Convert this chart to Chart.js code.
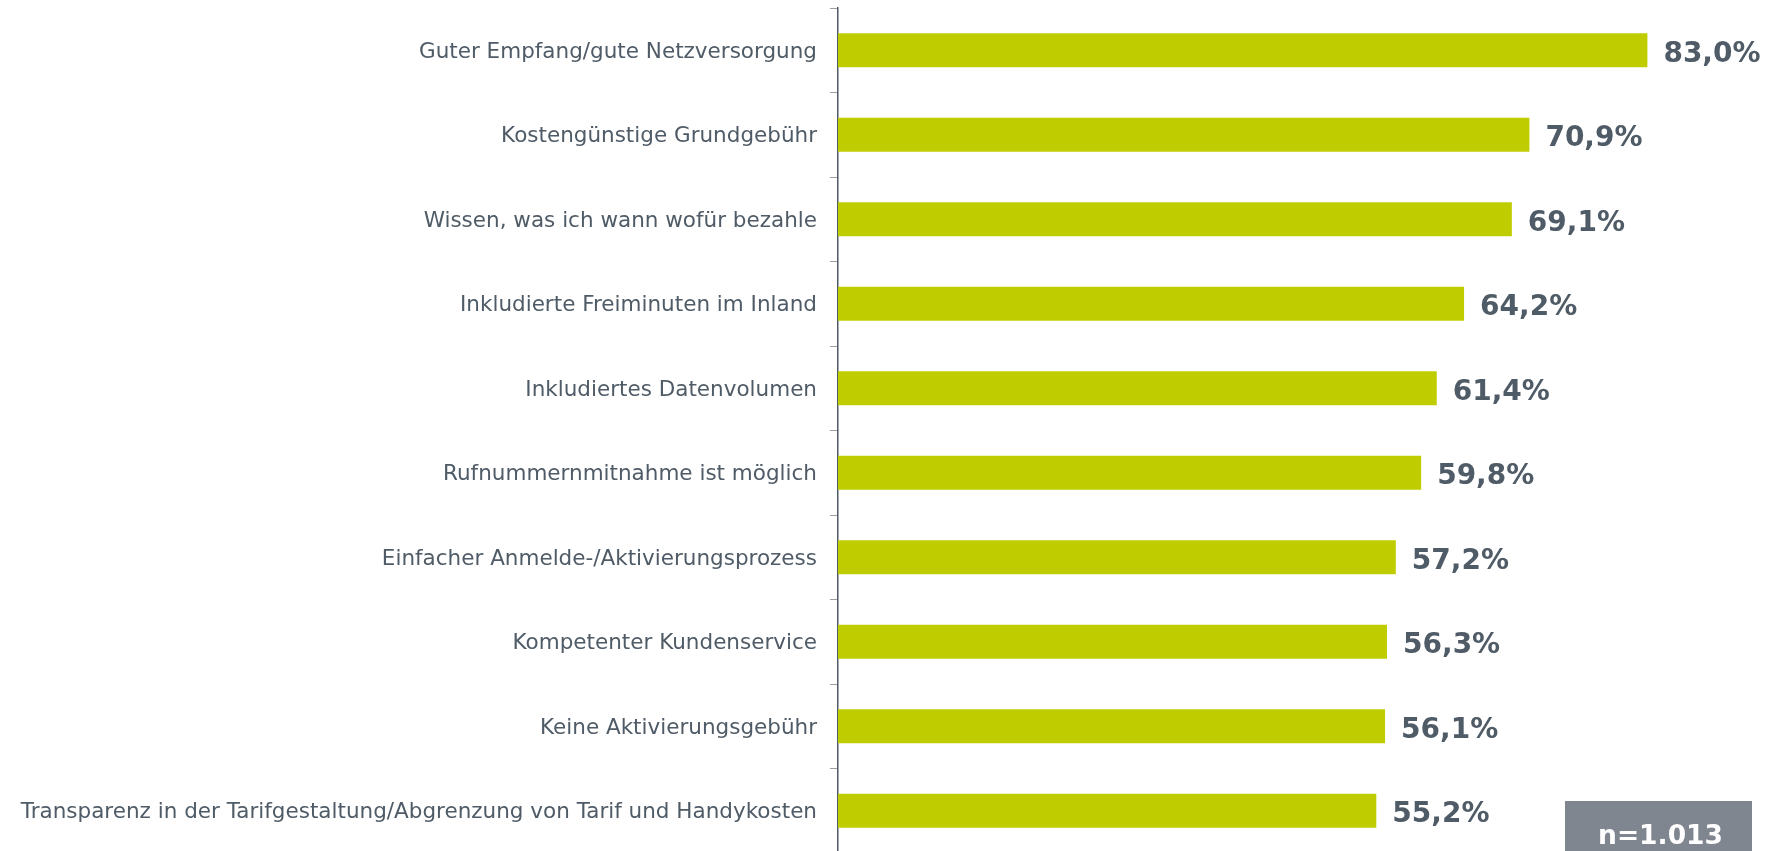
<!DOCTYPE html>
<html>
<head>
<meta charset="utf-8">
<script src="https://cdn.jsdelivr.net/npm/chart.js@4/dist/chart.umd.min.js"></script>
<style>
  html, body { margin: 0; padding: 0; background: #ffffff; overflow: hidden; }
  #wrap { position: relative; width: 1781px; height: 854px; }
</style>
</head>
<body>
<div id="wrap"><canvas id="c"></canvas></div>
<script>
const categories = [
  "Guter Empfang/gute Netzversorgung",
  "Kostengünstige Grundgebühr",
  "Wissen, was ich wann wofür bezahle",
  "Inkludierte Freiminuten im Inland",
  "Inkludiertes Datenvolumen",
  "Rufnummernmitnahme ist möglich",
  "Einfacher Anmelde-/Aktivierungsprozess",
  "Kompetenter Kundenservice",
  "Keine Aktivierungsgebühr",
  "Transparenz in der Tarifgestaltung/Abgrenzung von Tarif und Handykosten"
];
const values = [83.0, 70.9, 69.1, 64.2, 61.4, 59.8, 57.2, 56.3, 56.1, 55.2];
const sampleNote = "n=1.013";

const textColor = "#4f5b66";
const barColor = "#bfcd00";

const valueLabels = {
  id: "valueLabels",
  afterDatasetsDraw(chart) {
    const ctx = chart.ctx;
    const meta = chart.getDatasetMeta(0);
    ctx.save();
    ctx.font = "bold 28px 'DejaVu Sans', Verdana, sans-serif";
    ctx.fillStyle = textColor;
    ctx.textAlign = "left";
    ctx.textBaseline = "middle";
    meta.data.forEach((bar, i) => {
      const txt = values[i].toFixed(1).replace(".", ",") + "%";
      ctx.fillText(txt, bar.x + 16, bar.y + 4);
    });
    ctx.restore();
  }
};

const noteBox = {
  id: "noteBox",
  afterDraw(chart) {
    const ctx = chart.ctx;
    const x = 1565, y = 801, w = 187, h = 60;
    ctx.save();
    ctx.fillStyle = "#80868f";
    ctx.fillRect(x, y, w, h);
    ctx.fillStyle = "#ffffff";
    ctx.font = "bold 26.5px 'DejaVu Sans', Verdana, sans-serif";
    ctx.textAlign = "center";
    ctx.textBaseline = "alphabetic";
    ctx.fillText(sampleNote, x + w / 2 + 2, 844);
    ctx.restore();
  }
};

new Chart(document.getElementById("c"), {
  type: "bar",
  data: {
    labels: categories,
    datasets: [{
      data: values,
      backgroundColor: barColor,
      borderWidth: 0,
      barPercentage: 0.4,
      categoryPercentage: 1.0
    }]
  },
  options: {
    indexAxis: "y",
    responsive: true,
    maintainAspectRatio: false,
    animation: false,
    layout: { padding: { top: 8, bottom: 1, left: 0, right: 0 } },
    plugins: {
      legend: { display: false },
      tooltip: { enabled: false }
    },
    scales: {
      x: {
        display: false,
        min: 0,
        max: 96.7
      },
      y: {
        afterFit(scale) {
          scale.width = 838;
          scale.paddingTop = 0;
          scale.paddingBottom = 0;
        },
        grid: {
          display: true,
          drawOnChartArea: false,
          drawTicks: true,
          tickLength: 8,
          color: "#9aa0a6",
          offset: true
        },
        border: { display: true, color: "#4f5b66", width: 1.5 },
        ticks: {
          color: textColor,
          padding: 13,
          labelOffset: 2,
          font: { family: "'DejaVu Sans', Verdana, sans-serif", size: 21.5 }
        }
      }
    }
  },
  plugins: [valueLabels, noteBox]
});
</script>
</body>
</html>
